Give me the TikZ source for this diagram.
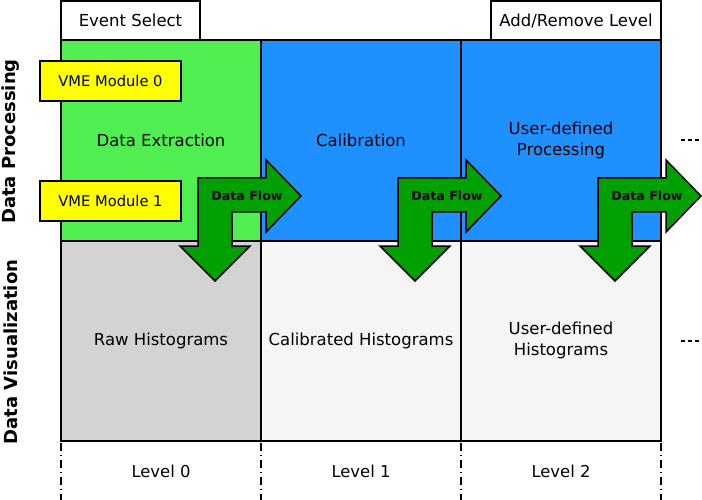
\documentclass[tikz,border=0pt]{standalone}
\usepackage{fontspec}
\setmainfont{DejaVu Sans}
\begin{document}
\begin{tikzpicture}[x=1pt,y=-1pt,
  cell/.style={draw=black, line width=2pt, minimum width=200pt, minimum height=200pt, inner sep=0pt, align=center, font=\fontsize{16.5}{20.5}\selectfont},
  topbox/.style={draw=black, line width=1.5pt, fill=white, minimum height=39pt, inner sep=0pt, font=\fontsize{16.5}{20}\selectfont},
  vme/.style={draw=black, line width=2pt, fill=vmeyellow, minimum width=141pt, minimum height=40pt, inner sep=0pt, font=\fontsize{14.7}{17}\selectfont},
  flow/.style={draw=black, line width=1.5pt, fill=flowgreen, line join=miter},
  flowtext/.style={font=\bfseries\fontsize{12.6}{15}\selectfont, inner sep=0pt},
  side/.style={font=\bfseries\fontsize{18}{21}\selectfont, rotate=90, inner sep=0pt},
  lvl/.style={font=\fontsize{16.4}{20}\selectfont, inner sep=0pt},
  sep/.style={line width=1.2pt, dash pattern=on 8pt off 4pt on 1pt off 4pt},
  more/.style={line width=1.2pt, dash pattern=on 4pt off 3pt}
]
\definecolor{extgreen}{RGB}{80,238,80}
\definecolor{calblue}{RGB}{30,144,255}
\definecolor{rawgray}{RGB}{211,211,211}
\definecolor{histwhite}{RGB}{245,245,245}
\definecolor{vmeyellow}{RGB}{255,255,0}
\definecolor{flowgreen}{RGB}{0,160,0}
\useasboundingbox (0,0) rectangle (702,500);
% top boxes
\node[topbox, minimum width=139pt] (evsel) at (130.5,20.5) {Event Select};
\node[topbox, minimum width=170pt] (addrem) at (576,20.5) {Add/Remove Level};
% cells
\node[cell, fill=extgreen] (ext) at (161,140.5) {};
\node[cell, fill=calblue] (cal) at (361,140.5) {Calibration};
\node[cell, fill=calblue] (usp) at (561,140.5) {User-defined\\Processing};
\node[cell, fill=rawgray] (raw) at (161,340.5) {Raw Histograms};
\node[cell, fill=histwhite] (calh) at (361,340.5) {Calibrated Histograms};
\node[cell, fill=histwhite] (ush) at (561,340.5) {User-defined\\Histograms};
\node[font=\fontsize{16.5}{20}\selectfont, inner sep=0pt] (exttext) at (161,140.5) {Data Extraction};
% VME modules
\node[vme] (vme0) at (110.5,81) {VME Module 0};
\node[vme] (vme1) at (110.5,201) {VME Module 1};
% data flow arrows
\foreach \dx/\nm in {0/fa,200/fb,400/fc}{
  \begin{scope}[xshift=\dx pt]
    \path[flow] (198,178) -- (266,178) -- (266,160) -- (301,196) -- (266,232) -- (266,212)
      -- (232,212) -- (232,246) -- (250,246) -- (215,281) -- (180,246) -- (198,246) -- cycle;
    \node[flowtext] (\nm) at (247,196) {Data Flow};
  \end{scope}
}
% side labels
\node[side] (dp) at (10.5,141.5) {Data Processing};
\node[side] (dv) at (10.5,352) {Data Visualization};
% continuation marks
\coordinate (m1a) at (681,140); \coordinate (m1b) at (701,140);
\coordinate (m2a) at (681,341); \coordinate (m2b) at (701,341);
\draw[more] (m1a) -- (m1b);
\draw[more] (m2a) -- (m2b);
% level separators
\foreach \x/\nm in {61/s0,261/s1,461/s2,661/s3}{
  \coordinate (\nm t) at (\x,443);
  \coordinate (\nm b) at (\x,500);
  \draw[sep] (\nm t) -- (\nm b);
}
\node[lvl] (l0) at (161,471) {Level 0};
\node[lvl] (l1) at (361,471) {Level 1};
\node[lvl] (l2) at (561,471) {Level 2};
\end{tikzpicture}
\end{document}
